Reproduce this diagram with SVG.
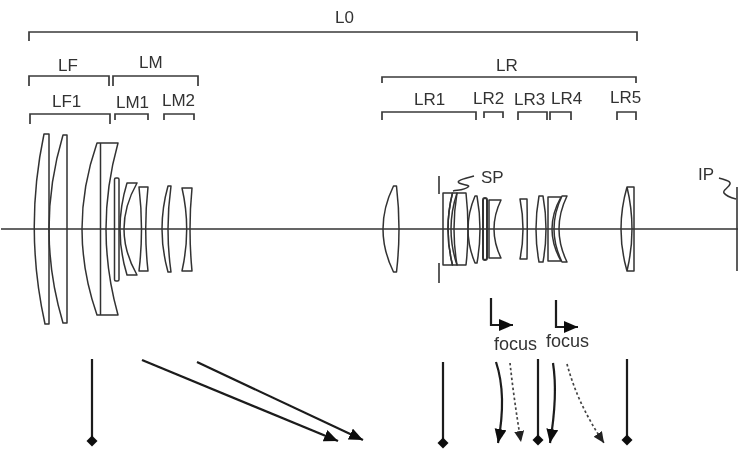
<svg xmlns="http://www.w3.org/2000/svg" width="740" height="449" viewBox="0 0 740 449">
<style>
text{font-family:"Liberation Sans",Arial,sans-serif;font-size:17px;fill:#333}
.f{font-size:18px}
.b{fill:none;stroke:#3a3a3a;stroke-width:1.7}
.l{fill:none;stroke:#333;stroke-width:1.5;stroke-linejoin:round}
.ax{fill:none;stroke:#333;stroke-width:1.6}
.s{fill:none;stroke:#1a1a1a;stroke-width:2.2}
.d{fill:none;stroke:#444;stroke-width:1.7;stroke-dasharray:2.5 2.5}
.soft{filter:url(#soft)}
</style>
<defs>
<filter id="soft" x="0" y="0" width="100%" height="100%" filterUnits="userSpaceOnUse"><feGaussianBlur stdDeviation="0.4"/></filter>
<marker id="arr" markerUnits="userSpaceOnUse" markerWidth="16" markerHeight="14" refX="14" refY="6" orient="auto"><path d="M0,0 L14,6 L0,12 Z" fill="#111"/></marker>
<marker id="arrs" markerUnits="userSpaceOnUse" markerWidth="14" markerHeight="12" refX="11" refY="5" orient="auto"><path d="M0,0 L11,5 L0,10 Z" fill="#222"/></marker>
<marker id="dia" markerUnits="userSpaceOnUse" markerWidth="12" markerHeight="12" refX="6" refY="6" orient="0"><path d="M6,0.5 L11.5,6 L6,11.5 L0.5,6 Z" fill="#111"/></marker>
</defs>
<g class="soft">
<g id="axis"><path class="ax" d="M1,229 H738"/></g>
<g id="brackets">
<path class="b" d="M29,41 V32 H637 V41"/>
<path class="b" d="M29,86 V76 H109 V86"/>
<path class="b" d="M113,86 V76 H198 V86"/>
<path class="b" d="M30,124 V114 H110 V124"/>
<path class="b" d="M115,120 V114 H148 V120"/>
<path class="b" d="M164,120 V114 H194 V120"/>
<path class="b" d="M382,83 V77 H636 V83"/>
<path class="b" d="M382,120 V112 H476 V120"/>
<path class="b" d="M484,118 V112 H503 V118"/>
<path class="b" d="M518,120 V112 H547 V120"/>
<path class="b" d="M550,120 V112 H571 V120"/>
<path class="b" d="M617,120 V112 H636 V120"/>
</g>
<g id="labels">
<text x="335" y="23">L0</text>
<text x="58" y="71">LF</text>
<text x="139" y="68">LM</text>
<text x="52" y="107">LF1</text>
<text x="116" y="108">LM1</text>
<text x="162" y="106">LM2</text>
<text x="496" y="71">LR</text>
<text x="414" y="105">LR1</text>
<text x="473" y="104">LR2</text>
<text x="514" y="105">LR3</text>
<text x="551" y="104">LR4</text>
<text x="610" y="103">LR5</text>
<text x="481" y="183">SP</text>
<text x="698" y="180">IP</text>
<text class="f" x="494" y="350">focus</text>
<text class="f" x="546" y="347">focus</text>
</g>
<g id="LF1">
<path class="l" d="M44,134 Q24,229 45,324 H49 V134 Z"/>
<path class="l" d="M63,135 Q35,229 63,323 H67 V135 Z"/>
<path class="l" d="M97,143 Q67,229 97,315 H118 Q94,229 118,143 Z M100.5,143 V315"/>
</g>
<g id="LM1">
<rect class="l" x="114.5" y="178" width="4.5" height="103" rx="1.5"/>
<path class="l" d="M127,183 Q113,229 127,275 H137 Q111,229 137,183 Z"/>
<path class="l" d="M139,187 H148 Q143.4,229 148,271 H139 Q144,229 139,187 Z"/>
</g>
<g id="LM2">
<path class="l" d="M168,186 H171 Q165,229 171,272 H168 Q156,229 168,186 Z"/>
<path class="l" d="M182,188 H192 Q188,229 192,271 H182 Q191.4,229 182,188 Z"/>
</g>
<g id="LR1">
<path class="l" d="M393.5,186 Q372.5,229 393.5,272 H396.5 Q401.5,229 396.5,186 Z"/>
<path class="l" d="M443,193 H452.5 Q443.5,229 452.5,265 H443 Z"/>
<path class="l" d="M452.5,193 H457 Q445,229 457,265 H452.5 Q443.5,229 452.5,193 Z"/>
<path class="l" d="M457,193 H466 Q470,229 466,265 H457 Q451,229 457,193 Z"/>
</g>
<g id="SP">
<path class="ax" d="M439,176 V194 M439,263 V283"/>
<path class="l" d="M474,176 C462,179 456,181 459,183 C463,185 471,185 468,187 C465,190 458,190 453,191"/>
</g>
<g id="LR2">
<path class="l" d="M475,196 Q461,229 475,263 H477 Q483,229 477,196 Z"/>
<rect class="l" x="483" y="198" width="4" height="62" rx="2" style="stroke-width:2"/>
<path class="l" d="M489,200 H501 Q487,229 501,258 H489 Z"/>
</g>
<g id="LR3">
<path class="l" d="M520,199 H527 Q527.5,229 527,259 H520 Q526,229 520,199 Z"/>
<path class="l" d="M539,196 H543 Q549,229 543,262 H539 Q533,229 539,196 Z"/>
</g>
<g id="LR4">
<path class="l" d="M548,197 H561 Q543,229 561,261 H548 Z"/>
<path class="l" d="M562,196 H567 Q551,229 567,262 H562 Q546,229 562,196 Z"/>
</g>
<g id="LR5">
<path class="l" d="M627,187 Q615,229 627,271 H634 V187 Z M627,187 Q637,229 627,271"/>
</g>
<g id="IP">
<path class="ax" d="M737,187 V271"/>
<path class="l" d="M719,178 C725,180 731,181 730,184 C729,188 722,190 724,193 C726,196 732,198 736,199"/>
</g>
<g id="connectors">
<path class="s" d="M491,298 V325 H513" marker-end="url(#arr)"/>
<path class="s" d="M556,300 V327 H578" marker-end="url(#arr)"/>
<path class="s" d="M92,359 V441" marker-end="url(#dia)"/>
<path class="s" d="M443,362 V443" marker-end="url(#dia)"/>
<path class="s" d="M538,359 V440" marker-end="url(#dia)"/>
<path class="s" d="M627,359 V440" marker-end="url(#dia)"/>
<path class="s" d="M142,360 L338,441" marker-end="url(#arr)"/>
<path class="s" d="M197,362 L363,440" marker-end="url(#arr)"/>
<path class="s" d="M496,362 Q507,395 498,443" marker-end="url(#arr)"/>
<path class="s" d="M553,363 Q558,395 550,443" marker-end="url(#arr)"/>
<path class="d" d="M510,363 Q514,400 521,442" marker-end="url(#arrs)"/>
<path class="d" d="M567,364 Q578,405 604,443" marker-end="url(#arrs)"/>
</g>
</g>
</svg>
